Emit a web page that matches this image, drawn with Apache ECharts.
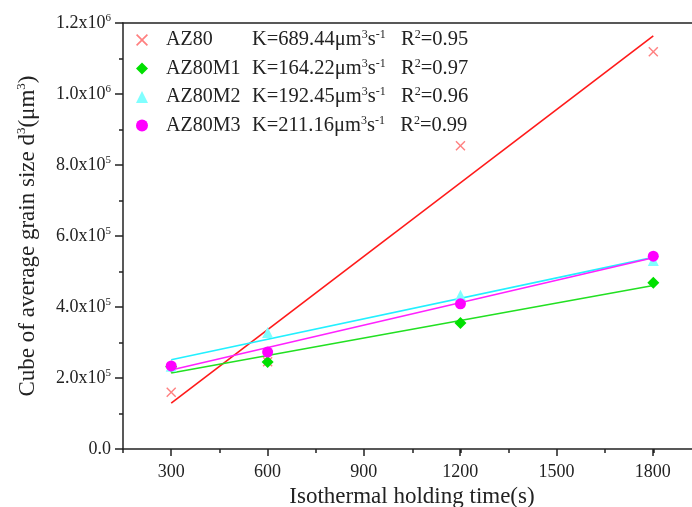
<!DOCTYPE html>
<html><head><meta charset="utf-8">
<script src="https://cdn.jsdelivr.net/npm/echarts@6/dist/echarts.min.js"></script>
<style>html,body{margin:0;padding:0;background:#fff}#c{width:692px;height:507px}</style>
</head><body><div id="c"></div>
<script>
// ---- data ----
const times = [300, 600, 1200, 1800];
const az80   = [1.60e5, 2.46e5, 8.54e5, 1.119e6];
const az80m1 = [2.32e5, 2.45e5, 3.55e5, 4.685e5];
const az80m2 = [2.33e5, 3.28e5, 4.33e5, 5.31e5];
const az80m3 = [2.34e5, 2.73e5, 4.09e5, 5.43e5];
const seriesNames = ['AZ80', 'AZ80M1', 'AZ80M2', 'AZ80M3'];
const kValues = ['689.44', '164.22', '192.45', '211.16'];
const r2Values = ['0.95', '0.97', '0.96', '0.99'];
const xTickLabels = ['300', '600', '900', '1200', '1500', '1800'];
const yTickMantissa = ['0.0', '2.0', '4.0', '6.0', '8.0', '1.0', '1.2'];
const yTickExp = ['', '5', '5', '5', '5', '6', '6'];

const FONT = '"Liberation Serif","Times New Roman",serif';
const markerColors = ['#ff8080', '#00e000', '#80ffff', '#ff00ff'];
const lineColors = ['#ff1a1a', '#22e022', '#22f0ff', '#ff22ff'];
const symbols = [
  'path://M0,1 L1,0 L5,4 L9,0 L10,1 L6,5 L10,9 L9,10 L5,6 L1,10 L0,9 L4,5 Z',
  'diamond', 'triangle', 'circle'
];
const symbolSizes = [10, 12, 11, 11];
const allY = [az80, az80m1, az80m2, az80m3];

function linFit(xs, ys) {
  const n = xs.length;
  const mx = xs.reduce((a, b) => a + b, 0) / n;
  const my = ys.reduce((a, b) => a + b, 0) / n;
  let sxy = 0, sxx = 0;
  for (let i = 0; i < n; i++) { sxy += (xs[i] - mx) * (ys[i] - my); sxx += (xs[i] - mx) ** 2; }
  const m = sxy / sxx, b = my - m * mx;
  return [[xs[0], b + m * xs[0]], [xs[n - 1], b + m * xs[n - 1]]];
}

const series = [];
allY.forEach((ys, i) => {
  series.push({
    type: 'line', name: seriesNames[i] + '_fit', data: linFit(times, ys),
    showSymbol: false, symbol: 'none', lineStyle: { color: lineColors[i], width: 1.6 },
    xAxisIndex: 0, yAxisIndex: 0, z: 2, silent: true
  });
});
allY.forEach((ys, i) => {
  series.push({
    type: 'scatter', name: seriesNames[i], data: times.map((t, j) => [t, ys[j]]),
    symbol: symbols[i], symbolSize: symbolSizes[i],
    itemStyle: { color: markerColors[i], opacity: 1 },
    xAxisIndex: 0, yAxisIndex: 0, z: 3 + i
  });
});

const supStyle = { fontSize: 12, fontFamily: FONT, color: '#222', verticalAlign: 'top', lineHeight: 12 };
const chart = echarts.init(document.getElementById('c'));
chart.setOption({
  animation: false,
  backgroundColor: '#fff',
  grid: [
    { left: 123, top: 23, height: 426, width: 578.5, outerBoundsMode: 'none', containLabel: false, show: false },
    { left: 171.2, top: 23, height: 426, width: 481.6, outerBoundsMode: 'none', containLabel: false, show: false }
  ],
  legend: {
    orient: 'vertical', left: 131, top: 24, itemGap: 7, itemWidth: 12, itemHeight: 12,
    data: seriesNames.map((n, i) => ({ name: n, icon: symbols[i] })),
    formatter: function (name) {
      const i = seriesNames.indexOf(name);
      return '{g| }{n|' + name + '}{t|K=' + kValues[i] + 'μm}{s|3}{t|s}{s|-1}{t|   R}{s|2}{t|=' + r2Values[i] + '}';
    },
    textStyle: {
      fontFamily: FONT, fontSize: 20, color: '#222',
      rich: {
        g: { width: 13, fontSize: 20, lineHeight: 22 },
        n: { width: 86, fontSize: 20, fontFamily: FONT, color: '#222', lineHeight: 22 },
        t: { fontSize: 20.5, fontFamily: FONT, color: '#222', lineHeight: 22 },
        s: supStyle
      }
    }
  },
  xAxis: [
    {
      gridIndex: 0, type: 'value', min: 150, max: 1950, interval: 150,
      axisLine: { lineStyle: { color: '#222', width: 1.5 } },
      axisTick: { length: 4, lineStyle: { color: '#222', width: 1.5 } },
      axisLabel: { show: false }, splitLine: { show: false }
    },
    {
      gridIndex: 1, type: 'value', min: 300, max: 1800, interval: 300,
      axisLine: { show: false },
      axisTick: { length: 7, lineStyle: { color: '#222', width: 1.5 } },
      axisLabel: {
        margin: 14, fontFamily: FONT, fontSize: 18, color: '#222',
        formatter: v => xTickLabels[Math.round(v / 300) - 1]
      },
      splitLine: { show: false },
      name: 'Isothermal holding time(s)', nameLocation: 'middle', nameGap: 35,
      nameTextStyle: { fontFamily: FONT, fontSize: 23, color: '#222' }
    },
    {
      gridIndex: 0, type: 'value', position: 'top', min: 150, max: 1950,
      axisLine: { show: true, lineStyle: { color: '#222', width: 1.5 } },
      axisTick: { show: false }, axisLabel: { show: false }, splitLine: { show: false }
    }
  ],
  yAxis: [
    {
      gridIndex: 0, type: 'value', min: 0, max: 1.2e6, interval: 2e5,
      axisLine: { show: true, lineStyle: { color: '#222', width: 1.5 } },
      axisTick: { show: true, length: 8, lineStyle: { color: '#222', width: 1.5 } },
      minorTick: { show: true, splitNumber: 2, length: 4, lineStyle: { color: '#222', width: 1.5 } },
      splitLine: { show: false }, minorSplitLine: { show: false },
      axisLabel: {
        margin: 12, fontFamily: FONT, fontSize: 18, color: '#222',
        formatter: function (v) {
          const i = Math.round(v / 2e5);
          if (!yTickExp[i]) return '{m|' + yTickMantissa[i] + '}';
          return '{m|' + yTickMantissa[i] + 'x10}{s|' + yTickExp[i] + '}';
        },
        rich: {
          m: { fontFamily: FONT, fontSize: 18, color: '#222', lineHeight: 20 },
          s: { fontFamily: FONT, fontSize: 11, color: '#222', verticalAlign: 'top', lineHeight: 11 }
        }
      },
      name: '{t|Cube of average grain size d}{s|3}{t|(μm}{s|3}{t|)}',
      nameLocation: 'middle', nameGap: 82,
      nameTextStyle: {
        rich: {
          t: { fontFamily: FONT, fontSize: 23, color: '#222', lineHeight: 26 },
          s: { fontFamily: FONT, fontSize: 13, color: '#222', verticalAlign: 'top', lineHeight: 13 }
        }
      }
    },
    { gridIndex: 1, type: 'value', show: false, min: 0, max: 1.2e6 }
  ],
  series: series
});
</script></body></html>
